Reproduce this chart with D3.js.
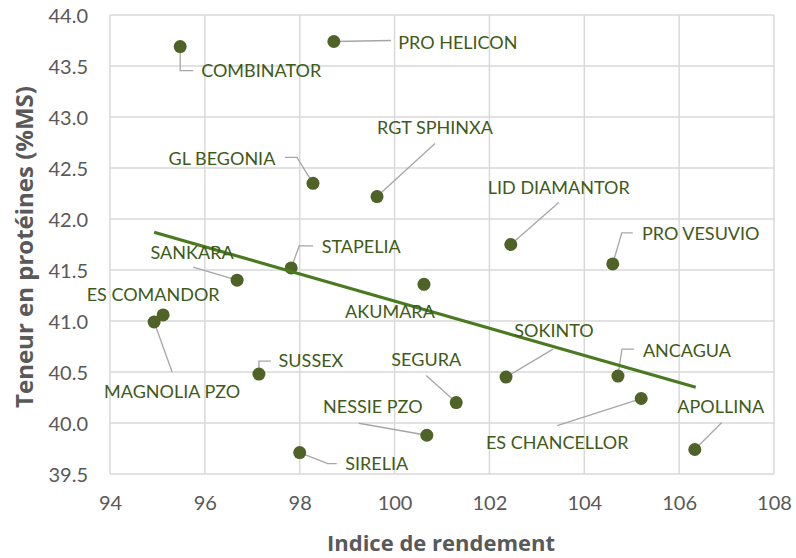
<!DOCTYPE html>
<html>
<head>
<meta charset="utf-8">
<script src="https://cdn.jsdelivr.net/npm/d3@7"></script>
<style>
  body { margin: 0; background: #fff; }
  svg text { font-family: Lato, "Open Sans", sans-serif; }
</style>
</head>
<body>
<svg id="chart" width="796" height="558"></svg>
<script>
// varieties, yield index (x) and protein content (y)
var names = ["COMBINATOR", "PRO HELICON", "GL BEGONIA", "RGT SPHINXA", "LID DIAMANTOR",
  "PRO VESUVIO", "STAPELIA", "SANKARA", "AKUMARA", "ES COMANDOR", "MAGNOLIA PZO",
  "SUSSEX", "NESSIE PZO", "SIRELIA", "SEGURA", "SOKINTO", "ANCAGUA", "ES CHANCELLOR", "APOLLINA"];
var rendement = [95.48, 98.72, 98.28, 99.63, 102.45, 104.6, 97.82, 96.68, 100.62, 95.12, 94.93,
  97.14, 100.68, 98.0, 101.3, 102.35, 104.71, 105.2, 106.33];
var proteines = [43.69, 43.74, 42.35, 42.22, 41.75, 41.56, 41.52, 41.40, 41.36, 41.06, 40.99,
  40.48, 39.88, 39.71, 40.2, 40.45, 40.46, 40.24, 39.74];

// linear trend line ends
var trendX = [94.93, 106.35];
var trendY = [41.87, 40.35];

var xTicks = [94, 96, 98, 100, 102, 104, 106, 108];
var yTicks = [39.5, 40.0, 40.5, 41.0, 41.5, 42.0, 42.5, 43.0, 43.5, 44.0];

// label placement: offset of label centre from the point, leader path (relative to point)
var labelPos = [
  {dx: 81, dy: 24, lead: [[0, 24], [13, 24]]},
  {dx: 124, dy: 1, lead: [[57, -1]]},
  {dx: -91, dy: -25, lead: [[-16, -26], [-28, -26]]},
  {dx: 58, dy: -69, lead: [[58, -53]]},
  {dx: 48, dy: -57, lead: [[48, -42]]},
  {dx: 88, dy: -30, lead: [[9, -31], [20, -31]]},
  {dx: 70, dy: -21, lead: [[8, -22], [22, -22]]},
  {dx: -45, dy: -28, lead: [[-44, -13]]},
  {dx: -34, dy: 27, lead: []},
  {dx: -10, dy: -20, lead: []},
  {dx: 18, dy: 70, lead: [[18, 50]]},
  {dx: 52, dy: -13, lead: [[0, -13], [12, -13]]},
  {dx: -54, dy: -29, lead: [[-68, -12]]},
  {dx: 77, dy: 11, lead: [[28, 11], [37, 11]]},
  {dx: -30, dy: -43, lead: [[-30, -27]]},
  {dx: 48, dy: -46, lead: [[47, -28]]},
  {dx: 69, dy: -25, lead: [[4, -27], [16, -27]]},
  {dx: -84, dy: 44, lead: [[-84, 27]]},
  {dx: 26, dy: -43, lead: [[27, -27]]}
];

var margin = {left: 110, top: 15, right: 22, bottom: 84};
var w = 796 - margin.left - margin.right;
var h = 558 - margin.top - margin.bottom;

var svg = d3.select("#chart");
var g = svg.append("g").attr("transform", "translate(" + margin.left + "," + margin.top + ")");

var x = d3.scaleLinear().domain([94, 108]).range([0, w]);
var y = d3.scaleLinear().domain([39.5, 44]).range([h, 0]);

// grid
g.append("g").selectAll("line").data(xTicks).enter().append("line")
  .attr("x1", function(d) { return x(d); }).attr("x2", function(d) { return x(d); })
  .attr("y1", 0).attr("y2", h)
  .attr("stroke", "#d9d9d9").attr("stroke-width", 1.5);
g.append("g").selectAll("line").data(yTicks).enter().append("line")
  .attr("y1", function(d) { return y(d); }).attr("y2", function(d) { return y(d); })
  .attr("x1", 0).attr("x2", w)
  .attr("stroke", "#d9d9d9").attr("stroke-width", 1.5);

// axes (tick labels only)
var xAxis = g.append("g").attr("transform", "translate(0," + h + ")")
  .call(d3.axisBottom(x).tickValues(xTicks).tickSize(0).tickPadding(22).tickFormat(d3.format("d")));
var yAxis = g.append("g")
  .call(d3.axisLeft(y).tickValues(yTicks).tickSize(0).tickPadding(22).tickFormat(d3.format(".1f")));
[xAxis, yAxis].forEach(function(a) {
  a.select(".domain").remove();
  a.selectAll("text").attr("fill", "#595959").style("font-size", "20px")
    .style("font-family", "Lato, sans-serif");
});
yAxis.selectAll("text").attr("dy", "0.35em");

// axis titles
svg.append("text").attr("x", 441).attr("y", 551)
  .attr("text-anchor", "middle").attr("fill", "#595959")
  .style("font-size", "22px").style("font-weight", "bold")
  .style("font-family", "'Open Sans', sans-serif")
  .text("Indice de rendement");
svg.append("text").attr("transform", "translate(33,247) rotate(-90)")
  .attr("text-anchor", "middle").attr("fill", "#595959")
  .style("font-size", "24px").style("font-weight", "bold")
  .style("font-family", "'Open Sans', sans-serif")
  .text("Teneur en protéines (%MS)");

// leader lines
names.forEach(function(n, i) {
  var px = x(rendement[i]), py = y(proteines[i]);
  var lp = labelPos[i];
  if (!lp.lead.length) return;
  var pts = [[px, py]].concat(lp.lead.map(function(p) { return [px + p[0], py + p[1]]; }));
  g.append("path").attr("d", d3.line()(pts))
    .attr("fill", "none").attr("stroke", "#a6a6a6").attr("stroke-width", 1.3);
});

// points
g.append("g").selectAll("circle").data(names).enter().append("circle")
  .attr("cx", function(d, i) { return x(rendement[i]); })
  .attr("cy", function(d, i) { return y(proteines[i]); })
  .attr("r", 6.5)
  .attr("fill", "#4f6228");

// trend line
g.append("line")
  .attr("x1", x(trendX[0])).attr("y1", y(trendY[0]))
  .attr("x2", x(trendX[1])).attr("y2", y(trendY[1]))
  .attr("stroke", "#4a7a20").attr("stroke-width", 3.2);

// labels
g.append("g").selectAll("text").data(names).enter().append("text")
  .attr("x", function(d, i) { return x(rendement[i]) + labelPos[i].dx; })
  .attr("y", function(d, i) { return y(proteines[i]) + labelPos[i].dy; })
  .attr("dy", "0.35em")
  .attr("text-anchor", "middle")
  .attr("fill", "#3f5a1a")
  .style("font-size", "18px")
  .text(function(d) { return d; });
</script>
</body>
</html>
